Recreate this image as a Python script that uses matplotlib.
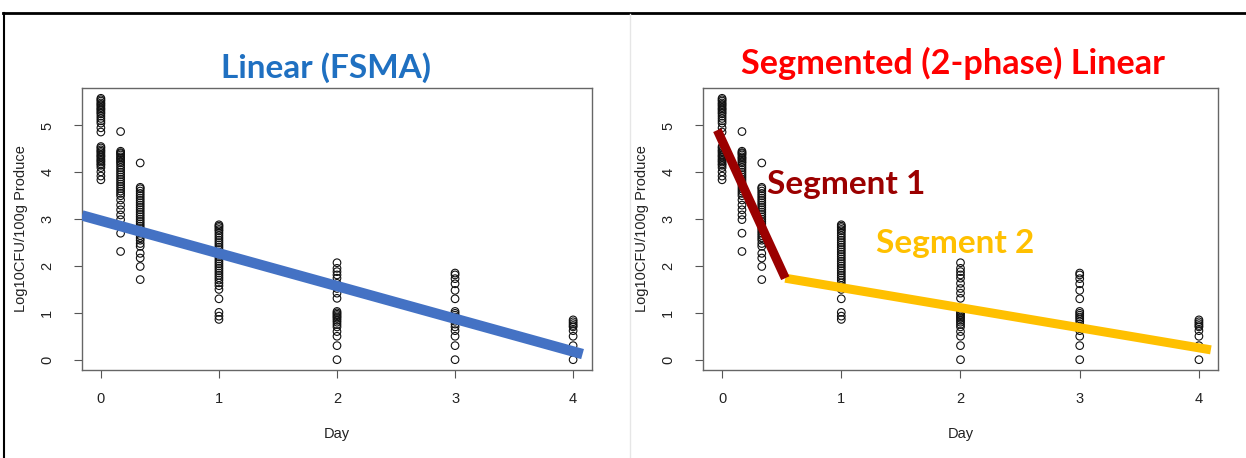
import matplotlib
matplotlib.use("Agg")
import matplotlib.pyplot as plt
from matplotlib.lines import Line2D
import numpy as np

# ---------------- data ----------------
days = [0.0, 0.167, 0.333, 1.0, 2.0, 3.0, 4.0]
log_counts = [
    # day 0
    [5.58, 5.55, 5.52, 5.48, 5.45, 5.42, 5.38, 5.35, 5.32, 5.28, 5.25, 5.20,
     5.15, 5.10, 5.05, 4.95, 4.86,
     4.55, 4.52, 4.48, 4.45, 4.42, 4.38, 4.35, 4.32, 4.28, 4.25, 4.22, 4.18,
     4.15, 4.10, 4.01, 3.92, 3.84],
    # 4 hours
    [4.87, 4.45, 4.42, 4.40, 4.37, 4.33, 4.30, 4.27, 4.23, 4.20, 4.15, 4.10,
     4.05, 4.00, 3.95, 3.90, 3.85, 3.80, 3.75, 3.70, 3.65, 3.60, 3.55, 3.50,
     3.41, 3.30, 3.20, 3.09, 2.99, 2.70, 2.31],
    # 8 hours
    [4.20, 3.68, 3.65, 3.60, 3.55, 3.50, 3.45, 3.40, 3.35, 3.30, 3.25, 3.20,
     3.15, 3.10, 3.05, 3.00, 2.95, 2.90, 2.85, 2.80, 2.75, 2.70, 2.65, 2.60,
     2.55, 2.48, 2.42, 2.27, 2.17, 1.99, 1.71],
    # day 1
    [2.88, 2.85, 2.82, 2.78, 2.75, 2.70, 2.65, 2.60, 2.55, 2.50, 2.45, 2.40,
     2.35, 2.30, 2.25, 2.20, 2.15, 2.10, 2.05, 2.00, 1.95, 1.90, 1.85, 1.80,
     1.75, 1.70, 1.64, 1.58, 1.50, 1.30, 1.01, 0.93, 0.86],
    # day 2
    [2.07, 1.95, 1.88, 1.81, 1.74, 1.63, 1.52, 1.42, 1.31, 1.03, 1.00, 0.97,
     0.94, 0.91, 0.88, 0.84, 0.80, 0.75, 0.70, 0.60, 0.50, 0.30, 0.0],
    # day 3
    [1.85, 1.81, 1.73, 1.62, 1.48, 1.30, 1.03, 0.99, 0.95, 0.91, 0.87, 0.82,
     0.76, 0.70, 0.62, 0.50, 0.30, 0.0],
    # day 4
    [0.85, 0.81, 0.77, 0.73, 0.70, 0.62, 0.50, 0.30, 0.0],
]

# fitted lines (end points)
linear_x = [-0.16, 4.08]
linear_y = [3.08, 0.12]
seg1_x = [-0.04, 0.53]
seg1_y = [4.90, 1.74]
seg2_x = [0.53, 4.10]
seg2_y = [1.74, 0.21]

x_ticks = [0, 1, 2, 3, 4]
y_ticks = [0, 1, 2, 3, 4, 5]
titles = ["Linear (FSMA)", "Segmented (2-phase) Linear"]
segment_labels = ["Segment 1", "Segment 2"]
x_label = "Day"
y_label = "Log10CFU/100g Produce"

# ---------------- figure ----------------
W, H = 1246, 458
fig = plt.figure(figsize=(W / 100, H / 100), dpi=100)
fig.patch.set_facecolor("white")

xs = np.concatenate([[d] * len(v) for d, v in zip(days, log_counts)])
ys = np.concatenate([np.array(v) for v in log_counts])

def px_axes(x0, x1, y0, y1):
    return fig.add_axes([x0 / W, 1 - y1 / H, (x1 - x0) / W, (y1 - y0) / H])

ax1 = px_axes(82, 592, 88, 370)
ax2 = px_axes(703, 1218, 88, 370)

plt.rcParams["font.family"] = ["Liberation Sans", "DejaVu Sans"]

for ax in (ax1, ax2):
    ax.scatter(xs, ys, s=30, facecolors="none", edgecolors="#111111",
               linewidths=0.8, zorder=2)
    ax.set_xlim(-0.16, 4.16)
    ax.set_ylim(-0.22, 5.80)
    ax.set_xticks(x_ticks)
    ax.set_yticks(y_ticks)
    ax.set_xticklabels([str(t) for t in x_ticks], fontsize=10.5,
                       family="Liberation Sans", color="#222222")
    ax.set_yticklabels([str(t) for t in y_ticks], fontsize=10.5, rotation=90,
                       va="center", family="Liberation Sans", color="#222222")
    ax.tick_params(axis="x", length=6, width=0.8, color="#555555", pad=10)
    ax.tick_params(axis="y", length=6, width=0.8, color="#555555", pad=14)
    for s in ax.spines.values():
        s.set_color("#666666")
        s.set_linewidth(1.0)
    ax.set_xlabel(x_label, fontsize=10.5, family="Liberation Sans",
                  color="#222222", labelpad=15)
    ax.set_ylabel(y_label, fontsize=10.5, family="Liberation Sans",
                  color="#222222", labelpad=9)

ax1.plot(linear_x, linear_y, color="#4472C4", lw=7.5, solid_capstyle="butt",
         zorder=3)
ax2.plot(seg2_x, seg2_y, color="#FFC000", lw=6.5, solid_capstyle="butt",
         zorder=3)
ax2.plot(seg1_x, seg1_y, color="#9B0000", lw=6.5, solid_capstyle="butt",
         zorder=4)

ax2.text(0.38, 3.73, segment_labels[0], color="#9B0000", fontsize=24,
         fontweight="bold", family="Lato", va="center", ha="left", zorder=5)
ax2.text(1.29, 2.49, segment_labels[1], color="#FFC000", fontsize=24,
         fontweight="bold", family="Lato", va="center", ha="left", zorder=5)

fig.text(326 / W, 1 - 68 / H, titles[0], color="#1F70C1", fontsize=24,
         fontweight="bold", family="Lato", ha="center", va="center")
fig.text(953 / W, 1 - 63 / H, titles[1], color="#FF0000", fontsize=24.7,
         fontweight="bold", family="Lato", ha="center", va="center")

# slide frame lines
fig.add_artist(Line2D([3 / W, 1], [1 - 13 / H, 1 - 13 / H], color="black",
                      lw=2, transform=fig.transFigure))
fig.add_artist(Line2D([3.5 / W, 3.5 / W], [0, 1 - 13 / H], color="black",
                      lw=1.5, transform=fig.transFigure))
fig.add_artist(Line2D([630 / W, 630 / W], [0, 1 - 14 / H], color="#E6E6E6",
                      lw=1, transform=fig.transFigure))

fig.savefig("out.png", dpi=100)
